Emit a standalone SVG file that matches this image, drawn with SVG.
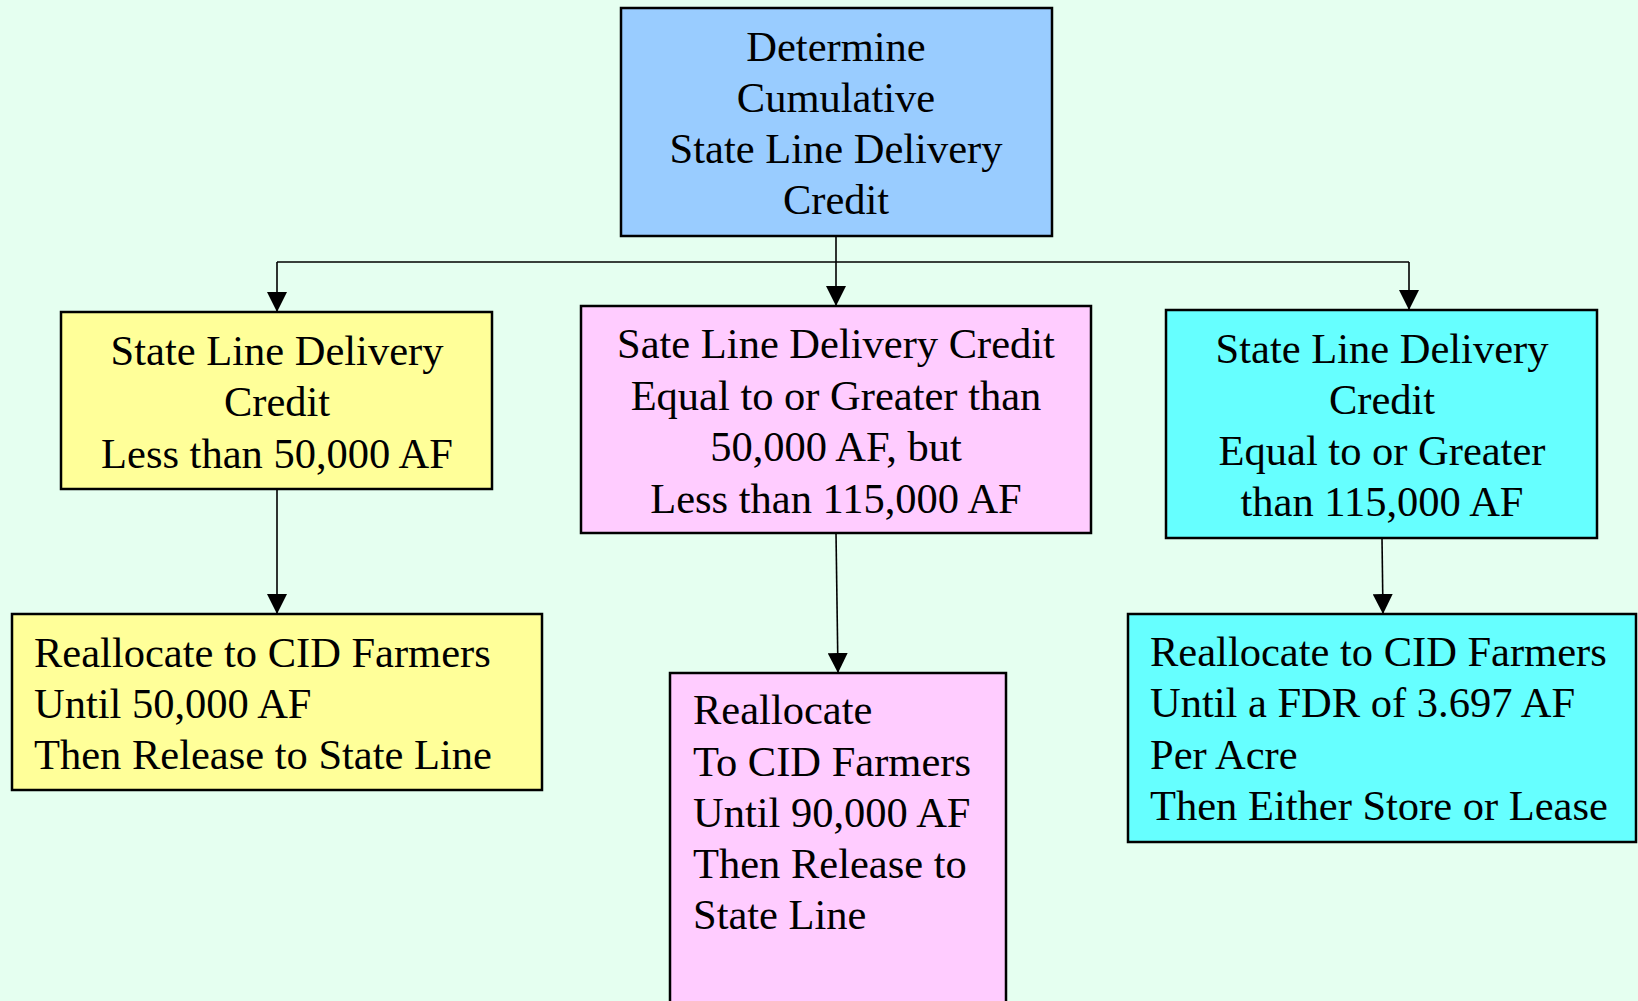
<svg xmlns="http://www.w3.org/2000/svg" width="1638" height="1001" viewBox="0 0 1638 1001">
  <defs>
    <marker id="arrow" viewBox="0 0 20 20" refX="20" refY="10" markerWidth="20" markerHeight="20" markerUnits="userSpaceOnUse" orient="auto">
      <path d="M0,0 L20,10 L0,20 z" fill="#000"/>
    </marker>
    <style>
      .box { stroke: #000; stroke-width: 2.5; }
      .t { font-family: "Liberation Serif", "Times New Roman", serif; font-size: 42.5px; fill: #000; }
      .c { text-anchor: middle; }
      .conn { fill: none; stroke: #000; stroke-width: 1.6; }
      .arr { marker-end: url(#arrow); }
    </style>
  </defs>
  <rect x="0" y="0" width="1638" height="1001" fill="#E5FFF0"/>

  <g id="connectors">
    <path class="conn" d="M277 262 H1409"/>
    <path class="conn arr" d="M836 236 V306"/>
    <path class="conn arr" d="M277 262 V312"/>
    <path class="conn arr" d="M1409 262 V310"/>
    <path class="conn arr" d="M277 489 V614"/>
    <path class="conn arr" d="M836 533 L838 673"/>
    <path class="conn arr" d="M1382 538 L1383 614"/>
  </g>

  <g id="node-top">
    <rect class="box" x="621" y="8" width="431" height="228" fill="#99CCFF"/>
    <text class="t c" x="836" y="61">Determine</text>
    <text class="t c" x="836" y="112">Cumulative</text>
    <text class="t c" x="836" y="163">State Line Delivery</text>
    <text class="t c" x="836" y="214">Credit</text>
  </g>

  <g id="node-less50">
    <rect class="box" x="61" y="312" width="431" height="177" fill="#FFFF99"/>
    <text class="t c" x="277" y="365">State Line Delivery</text>
    <text class="t c" x="277" y="416">Credit</text>
    <text class="t c" x="277" y="468">Less than 50,000 AF</text>
  </g>

  <g id="node-mid">
    <rect class="box" x="581" y="306" width="510" height="227" fill="#FFCCFF"/>
    <text class="t c" x="836" y="358">Sate Line Delivery Credit</text>
    <text class="t c" x="836" y="410">Equal to or Greater than</text>
    <text class="t c" x="836" y="461">50,000 AF, but</text>
    <text class="t c" x="836" y="513">Less than 115,000 AF</text>
  </g>

  <g id="node-more115">
    <rect class="box" x="1166" y="310" width="431" height="228" fill="#66FFFF"/>
    <text class="t c" x="1382" y="363">State Line Delivery</text>
    <text class="t c" x="1382" y="414">Credit</text>
    <text class="t c" x="1382" y="465">Equal to or Greater</text>
    <text class="t c" x="1382" y="516">than 115,000 AF</text>
  </g>

  <g id="node-realloc50">
    <rect class="box" x="12" y="614" width="530" height="176" fill="#FFFF99"/>
    <text class="t" x="34" y="667">Reallocate to CID Farmers</text>
    <text class="t" x="34" y="718">Until 50,000 AF</text>
    <text class="t" x="34" y="769">Then Release to State Line</text>
  </g>

  <g id="node-realloc90">
    <rect class="box" x="670" y="673" width="336" height="340" fill="#FFCCFF"/>
    <text class="t" x="693" y="724">Reallocate</text>
    <text class="t" x="693" y="776">To CID Farmers</text>
    <text class="t" x="693" y="827">Until 90,000 AF</text>
    <text class="t" x="693" y="878">Then Release to</text>
    <text class="t" x="693" y="929">State Line</text>
  </g>

  <g id="node-fdr">
    <rect class="box" x="1128" y="614" width="508" height="228" fill="#66FFFF"/>
    <text class="t" x="1150" y="666">Reallocate to CID Farmers</text>
    <text class="t" x="1150" y="717">Until a FDR of 3.697 AF</text>
    <text class="t" x="1150" y="769">Per Acre</text>
    <text class="t" x="1150" y="820">Then Either Store or Lease</text>
  </g>
</svg>
